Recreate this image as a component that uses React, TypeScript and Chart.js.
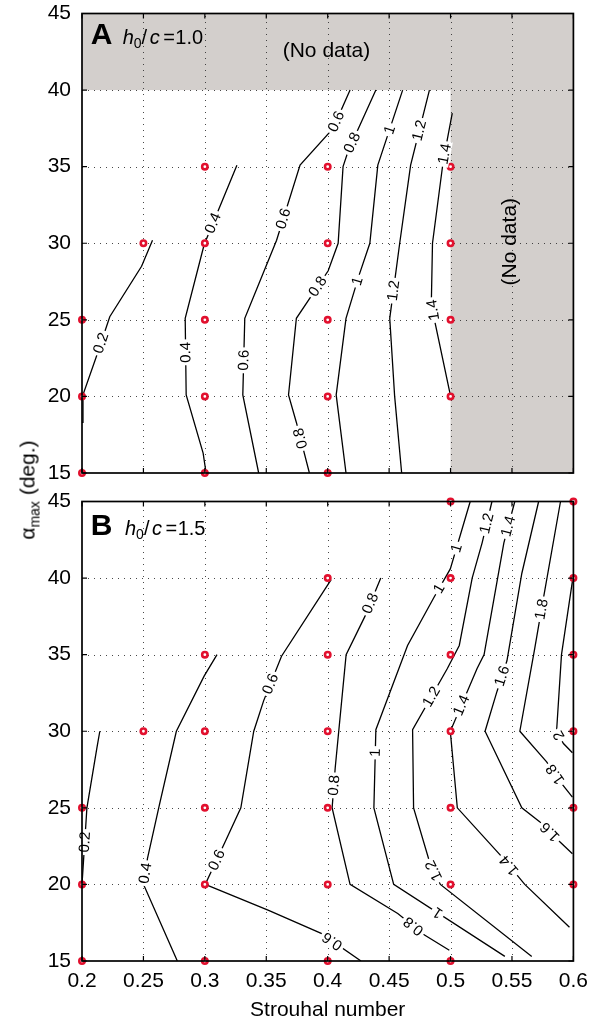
import React, { useEffect, useRef } from "react";
import { Chart, registerables } from "chart.js";
Chart.register(...registerables);

const FONT = '"Liberation Sans", Arial, Helvetica, sans-serif';
const GRAY = "#d3cfcc";
const RED = "#e2102e";

// ---- axes ----
const strouhalTicks = [0.2, 0.25, 0.3, 0.35, 0.4, 0.45, 0.5, 0.55, 0.6];
const alphaTicks = [15, 20, 25, 30, 35, 40, 45];

type Pt = [number, number];

// ---- Panel A (h0/c = 1.0): contour paths [St, alpha] ----
const a02: Pt[] = [[0.2, 18.3], [0.2008, 20.1], [0.213, 22.9], [0.2226, 25.2], [0.2485, 28.5], [0.2574, 30.2]];
const a04: Pt[] = [[0.301, 15], [0.2986, 16.3], [0.2848, 20.1], [0.284, 25.1], [0.2994, 29.9], [0.3261, 35.1]];
const a06: Pt[] = [[0.3438, 15], [0.3309, 20.1], [0.3325, 25.1], [0.3584, 30.2], [0.3775, 35.1], [0.4044, 37.5], [0.4182, 40]];
const a08: Pt[] = [[0.3851, 15], [0.3745, 18.3], [0.3681, 20.1], [0.3745, 25.1], [0.4004, 28.2], [0.4085, 30], [0.4125, 35], [0.4166, 36], [0.4392, 40]];
const a10: Pt[] = [[0.4149, 15], [0.4069, 20.1], [0.4149, 25.1], [0.4255, 27.9], [0.4343, 30], [0.4408, 35.1], [0.461, 40]];
const a12: Pt[] = [[0.4602, 15], [0.4545, 20], [0.4505, 25.1], [0.4586, 30], [0.4675, 35.1], [0.4828, 40]];
const a14: Pt[] = [[0.4998, 20.1], [0.4869, 25], [0.4844, 26.3], [0.4853, 30], [0.4941, 35.4], [0.5014, 38.5]];

const samplesA: Pt[] = [
  [0.2, 15], [0.2, 20], [0.2, 25], [0.25, 30],
  [0.3, 15], [0.3, 20], [0.3, 25], [0.3, 30], [0.3, 35],
  [0.4, 15], [0.4, 20], [0.4, 25], [0.4, 30], [0.4, 35],
  [0.5, 20], [0.5, 25], [0.5, 30], [0.5, 35],
];

const labelsA = [
  { t: "0.2", c: 0, x: 0.2162, y: 23.46 },
  { t: "0.4", c: 1, x: 0.3059, y: 31.34 },
  { t: "0.4", c: 1, x: 0.2857, y: 22.88 },
  { t: "0.6", c: 2, x: 0.364, y: 31.6 },
  { t: "0.6", c: 2, x: 0.3301, y: 22.36 },
  { t: "0.6", c: 2, x: 0.4061, y: 37.97 },
  { t: "0.8", c: 3, x: 0.4206, y: 36.54 },
  { t: "0.8", c: 3, x: 0.3907, y: 27.24 },
  { t: "0.8", c: 3, x: 0.3786, y: 17.28 },
  { t: "1", c: 4, x: 0.4489, y: 37.45 },
  { t: "1", c: 4, x: 0.423, y: 27.56 },
  { t: "1.2", c: 5, x: 0.4731, y: 37.39 },
  { t: "1.2", c: 5, x: 0.4529, y: 26.91 },
  { t: "1.4", c: 6, x: 0.495, y: 35.83 },
  { t: "1.4", c: 6, x: 0.4836, y: 25.61 },
];

const noDataA = [
  { x0: 0.2, x1: 0.6, y0: 40, y1: 45, tx: 0.399, ty: 42.55, rot: 0 },
  { x0: 0.5, x1: 0.6, y0: 15, y1: 40, tx: 0.5483, ty: 30.1, rot: -90 },
];

// ---- Panel B (h0/c = 1.5) ----
const b02: Pt[] = [[0.2, 20], [0.2016, 22], [0.204, 25], [0.2121, 28.9], [0.2145, 30]];
const b04: Pt[] = [[0.2776, 15], [0.2501, 20], [0.2533, 21.7], [0.263, 25.2], [0.2768, 30], [0.2994, 33.6], [0.3099, 35]];
const b06: Pt[] = [[0.4271, 15], [0.3947, 16.8], [0.3519, 18.3], [0.3003, 20], [0.3172, 22.9], [0.3293, 25], [0.3398, 30], [0.3479, 32], [0.3624, 34.9], [0.4028, 39.9]];
const b08: Pt[] = [[0.499, 15.7], [0.4788, 16.7], [0.457, 18.1], [0.4182, 20], [0.4036, 25], [0.4061, 27.6], [0.415, 35], [0.4303, 37.5], [0.4432, 40]];
const b10: Pt[] = [[0.5442, 15.3], [0.4537, 20], [0.4376, 25], [0.4392, 30.1], [0.465, 35.6], [0.4869, 38.8], [0.4998, 40.6], [0.516, 45]];
const b12: Pt[] = [[0.5661, 15.3], [0.4917, 20], [0.4828, 21.5], [0.4699, 25], [0.4691, 30.1], [0.4974, 34.1], [0.5071, 35.6], [0.5176, 40], [0.5257, 42.3], [0.5337, 45]];
const b14: Pt[] = [[0.5968, 17.2], [0.5604, 20], [0.5418, 21.8], [0.5055, 25], [0.4998, 30], [0.5216, 34.1], [0.5273, 35], [0.5434, 42.3], [0.5523, 45]];
const b16: Pt[] = [[0.5992, 22], [0.5887, 22.8], [0.5725, 24.1], [0.558, 25], [0.5281, 30], [0.5378, 32.6], [0.5459, 34.6], [0.558, 40.3], [0.5717, 45]];
const b18: Pt[] = [[0.5992, 25.7], [0.5903, 26.6], [0.5782, 28], [0.5564, 30], [0.5685, 35.4], [0.5741, 38], [0.5895, 45]];
const b20: Pt[] = [[0.5992, 28.6], [0.5919, 29.2], [0.5863, 30], [0.5903, 35], [0.5992, 39.8]];

const samplesB: Pt[] = [
  [0.2, 15], [0.2, 20], [0.2, 25], [0.25, 30],
  [0.3, 15], [0.3, 20], [0.3, 25], [0.3, 30], [0.3, 35],
  [0.4, 15], [0.4, 20], [0.4, 25], [0.4, 30], [0.4, 35], [0.4, 40],
  [0.5, 15], [0.5, 20], [0.5, 25], [0.5, 30], [0.5, 35], [0.5, 40], [0.5, 45],
  [0.6, 20], [0.6, 25], [0.6, 30], [0.6, 35], [0.6, 40], [0.6, 45],
];

const labelsB = [
  { t: "0.2", c: 0, x: 0.2048, y: 22.75 },
  { t: "0.4", c: 1, x: 0.2517, y: 20.73 },
  { t: "0.6", c: 2, x: 0.3576, y: 32.96 },
  { t: "0.6", c: 2, x: 0.3099, y: 21.58 },
  { t: "0.6", c: 2, x: 0.4044, y: 16.37 },
  { t: "0.8", c: 3, x: 0.4343, y: 38.36 },
  { t: "0.8", c: 3, x: 0.4061, y: 26.46 },
  { t: "0.8", c: 3, x: 0.4699, y: 17.28 },
  { t: "1", c: 4, x: 0.5055, y: 41.94 },
  { t: "1", c: 4, x: 0.4917, y: 39.27 },
  { t: "1", c: 4, x: 0.4384, y: 28.6 },
  { t: "1", c: 4, x: 0.4909, y: 18.32 },
  { t: "1.2", c: 5, x: 0.5297, y: 43.57 },
  { t: "1.2", c: 5, x: 0.4861, y: 32.18 },
  { t: "1.2", c: 5, x: 0.4853, y: 20.86 },
  { t: "1.4", c: 6, x: 0.5475, y: 43.37 },
  { t: "1.4", c: 6, x: 0.5079, y: 31.73 },
  { t: "1.4", c: 6, x: 0.5467, y: 21.19 },
  { t: "1.6", c: 7, x: 0.5418, y: 33.61 },
  { t: "1.6", c: 7, x: 0.5806, y: 23.4 },
  { t: "1.8", c: 8, x: 0.5741, y: 37.97 },
  { t: "1.8", c: 8, x: 0.5838, y: 27.11 },
  { t: "2", c: 9, x: 0.5879, y: 29.71 },
];

interface Panel {
  letter: string;
  ratio: string;
  contours: Pt[][];
  labels: { t: string; c: number; x: number; y: number }[];
  samples: Pt[];
  noData: { x0: number; x1: number; y0: number; y1: number; tx: number; ty: number; rot: number }[];
  bottom: boolean;
  titleDy: number;
  hDx: number;
}

const panelA: Panel = {
  letter: "A", ratio: "1.0",
  contours: [a02, a04, a06, a08, a10, a12, a14],
  labels: labelsA, samples: samplesA, noData: noDataA,
  bottom: false, titleDy: 30.3, hDx: 32,
};
const panelB: Panel = {
  letter: "B", ratio: "1.5",
  contours: [b02, b04, b06, b08, b10, b12, b14, b16, b18, b20],
  labels: labelsB, samples: samplesB, noData: [],
  bottom: true, titleDy: 33.3, hDx: 34.3,
};

function nearestOnPath(pts: { x: number; y: number }[], px: number, py: number) {
  let best = { d: Infinity, x: px, y: py, a: 0 };
  for (let i = 0; i < pts.length - 1; i++) {
    const A = pts[i], B = pts[i + 1];
    const dx = B.x - A.x, dy = B.y - A.y;
    const L2 = dx * dx + dy * dy || 1;
    let t = ((px - A.x) * dx + (py - A.y) * dy) / L2;
    t = Math.max(0, Math.min(1, t));
    const qx = A.x + t * dx, qy = A.y + t * dy;
    const d = Math.hypot(px - qx, py - qy);
    if (d < best.d) best = { d, x: qx, y: qy, a: Math.atan2(dy, dx) };
  }
  return best;
}

function decorPlugin(p: Panel) {
  return {
    id: "decor" + p.letter,
    beforeDraw(chart: any) {
      const { ctx, scales } = chart;
      const x = scales.x, y = scales.y;
      ctx.save();
      ctx.fillStyle = GRAY;
      for (const r of p.noData) {
        const X0 = x.getPixelForValue(r.x0), X1 = x.getPixelForValue(r.x1);
        const Y0 = y.getPixelForValue(r.y0), Y1 = y.getPixelForValue(r.y1);
        ctx.fillRect(Math.min(X0, X1), Math.min(Y0, Y1), Math.abs(X1 - X0), Math.abs(Y1 - Y0));
      }
      ctx.restore();
    },
    beforeDatasetsDraw(chart: any) {
      const { ctx, chartArea, scales } = chart;
      const x = scales.x, y = scales.y;
      ctx.save();
      ctx.strokeStyle = "rgba(40,40,40,0.85)";
      ctx.lineWidth = 1;
      ctx.setLineDash([1, 5]);
      for (const v of strouhalTicks.slice(1, -1)) {
        const X = Math.round(x.getPixelForValue(v)) + 0.5;
        ctx.beginPath();
        ctx.moveTo(X, chartArea.bottom);
        ctx.lineTo(X, chartArea.top);
        ctx.stroke();
      }
      for (const v of alphaTicks.slice(1, -1)) {
        const Y = Math.round(y.getPixelForValue(v)) + 0.5;
        ctx.beginPath();
        ctx.moveTo(chartArea.left, Y);
        ctx.lineTo(chartArea.right, Y);
        ctx.stroke();
      }
      ctx.restore();
    },
    afterDatasetsDraw(chart: any) {
      const { ctx, chartArea, scales } = chart;
      const x = scales.x, y = scales.y;
      ctx.save();
      // contour labels
      ctx.font = `15px ${FONT}`;
      ctx.textAlign = "center";
      ctx.textBaseline = "middle";
      for (const L of p.labels) {
        const path = p.contours[L.c].map(([sx, sy]) => ({ x: x.getPixelForValue(sx), y: y.getPixelForValue(sy) }));
        const q = nearestOnPath(path, x.getPixelForValue(L.x), y.getPixelForValue(L.y));
        const w = ctx.measureText(L.t).width;
        ctx.save();
        ctx.translate(q.x, q.y);
        ctx.rotate(q.a);
        ctx.fillStyle = "#fff";
        ctx.fillRect(-w / 2 - 2.5, -6, w + 5, 12);
        ctx.fillStyle = "#000";
        ctx.fillText(L.t, 0, 0.5);
        ctx.restore();
      }
      // no-data notes
      ctx.font = `21px ${FONT}`;
      for (const r of p.noData) {
        ctx.save();
        ctx.translate(x.getPixelForValue(r.tx), y.getPixelForValue(r.ty));
        ctx.rotate((r.rot * Math.PI) / 180);
        ctx.fillStyle = "#000";
        ctx.fillText("(No data)", 0, 0);
        ctx.restore();
      }
      // panel title
      const L0 = chartArea.left + 8.7;
      const B0 = chartArea.top + p.titleDy;
      ctx.textAlign = "left";
      ctx.textBaseline = "alphabetic";
      ctx.fillStyle = "#000";
      ctx.font = `bold 30px ${FONT}`;
      ctx.fillText(p.letter, L0, B0);
      let xx = L0 + p.hDx;
      ctx.font = `italic 20px ${FONT}`;
      ctx.fillText("h", xx, B0);
      xx += ctx.measureText("h").width;
      ctx.font = `14px ${FONT}`;
      ctx.fillText("0", xx, B0 + 4.5);
      xx += ctx.measureText("0").width;
      ctx.font = `20px ${FONT}`;
      ctx.fillText("/", xx, B0);
      xx += ctx.measureText("/").width + 2.5;
      ctx.font = `italic 20px ${FONT}`;
      ctx.fillText("c", xx, B0);
      xx += ctx.measureText("c").width + 3.5;
      ctx.font = `20px ${FONT}`;
      ctx.fillText("=", xx, B0);
      xx += ctx.measureText("=").width + 0.5;
      ctx.fillText(p.ratio, xx, B0);
      ctx.restore();
    },
    afterDraw(chart: any) {
      const { ctx, chartArea, scales } = chart;
      const x = scales.x, y = scales.y;
      const { left, right, top, bottom } = chartArea;
      ctx.save();
      ctx.strokeStyle = "#000";
      ctx.lineWidth = 1.7;
      ctx.strokeRect(left, top, right - left, bottom - top);
      ctx.lineWidth = 1.2;
      ctx.beginPath();
      for (const v of strouhalTicks) {
        const X = x.getPixelForValue(v);
        ctx.moveTo(X, bottom); ctx.lineTo(X, bottom - 5);
        ctx.moveTo(X, top); ctx.lineTo(X, top + 5);
      }
      for (const v of alphaTicks) {
        const Y = y.getPixelForValue(v);
        ctx.moveTo(left, Y); ctx.lineTo(left + 5, Y);
        ctx.moveTo(right, Y); ctx.lineTo(right - 5, Y);
      }
      ctx.stroke();
      ctx.restore();
    },
  };
}

function makeChart(canvas: HTMLCanvasElement, p: Panel) {
  const tickFont = { family: FONT, size: 21, lineHeight: 1 };
  const xColor = p.bottom ? "#000" : "rgba(0,0,0,0)";
  const datasets: any[] = [
    {
      label: "samples",
      data: p.samples.map(([sx, sy]) => ({ x: sx, y: sy })),
      showLine: false,
      pointStyle: "circle",
      pointRadius: 2.7,
      pointHoverRadius: 2.7,
      borderWidth: 2.6,
      borderColor: RED,
      backgroundColor: "#fff",
      clip: false,
      order: 0,
    },
    ...p.contours.map((c, i) => ({
      label: "c" + i,
      data: c.map(([sx, sy]) => ({ x: sx, y: sy })),
      showLine: true,
      borderColor: "#000",
      borderWidth: 1.3,
      pointRadius: 0,
      pointHoverRadius: 0,
      fill: false,
      tension: 0,
      order: 1,
    })),
  ];
  return new Chart(canvas, {
    type: "scatter",
    data: { datasets },
    plugins: [decorPlugin(p)],
    options: {
      responsive: false,
      animation: false,
      devicePixelRatio: 1,
      events: [],
      layout: { padding: { left: 0, right: 21, top: 20, bottom: 0 } },
      plugins: { legend: { display: false }, tooltip: { enabled: false } },
      scales: {
        x: {
          type: "linear",
          min: 0.2,
          max: 0.6,
          afterBuildTicks: (s: any) => { s.ticks = strouhalTicks.map((v) => ({ value: v })); },
          afterFit: (s: any) => { s.height = 62; },
          grid: { display: false, drawTicks: false },
          border: { display: false },
          ticks: {
            display: true,
            padding: 10,
            font: tickFont,
            color: xColor,
            maxRotation: 0,
            minRotation: 0,
            autoSkip: false,
            callback: (v: any) => String(+Number(v).toFixed(2)),
          },
          title: {
            display: true,
            text: "Strouhal number",
            font: tickFont,
            color: xColor,
            padding: { top: 0, bottom: 2.5 },
          },
        },
        y: {
          type: "linear",
          min: 15,
          max: 45,
          afterBuildTicks: (s: any) => { s.ticks = alphaTicks.map((v) => ({ value: v })); },
          afterFit: (s: any) => { s.width = 82; },
          grid: { display: false, drawTicks: false },
          border: { display: false },
          ticks: {
            padding: 11,
            font: tickFont,
            color: "#000",
            autoSkip: false,
            callback: (v: any) => String(v),
          },
        },
      },
    } as any,
  });
}

export default function App() {
  const refA = useRef<HTMLCanvasElement>(null);
  const refB = useRef<HTMLCanvasElement>(null);
  useEffect(() => {
    const cA = makeChart(refA.current as HTMLCanvasElement, panelA);
    const cB = makeChart(refB.current as HTMLCanvasElement, panelB);
    return () => {
      cA.destroy();
      cB.destroy();
    };
  }, []);
  return (
    <div style={{ position: "absolute", left: 0, top: 0, width: 598, height: 1023, background: "#fff", overflow: "hidden" }}>
      <canvas ref={refA} width={598} height={543} style={{ position: "absolute", left: 0, top: -8, width: 598, height: 543 }} />
      <canvas ref={refB} width={598} height={543} style={{ position: "absolute", left: 0, top: 480, width: 598, height: 543 }} />
      <div
        style={{
          position: "absolute",
          left: 27,
          top: 490,
          transform: "translate(-50%, -50%) rotate(-90deg)",
          whiteSpace: "nowrap",
          fontFamily: FONT,
          fontSize: 21,
          fontWeight: 400,
          lineHeight: 1,
          color: "#000",
        }}
      >
        α<span style={{ fontSize: 14, position: "relative", top: 5 }}>max</span> (deg.)
      </div>
    </div>
  );
}
